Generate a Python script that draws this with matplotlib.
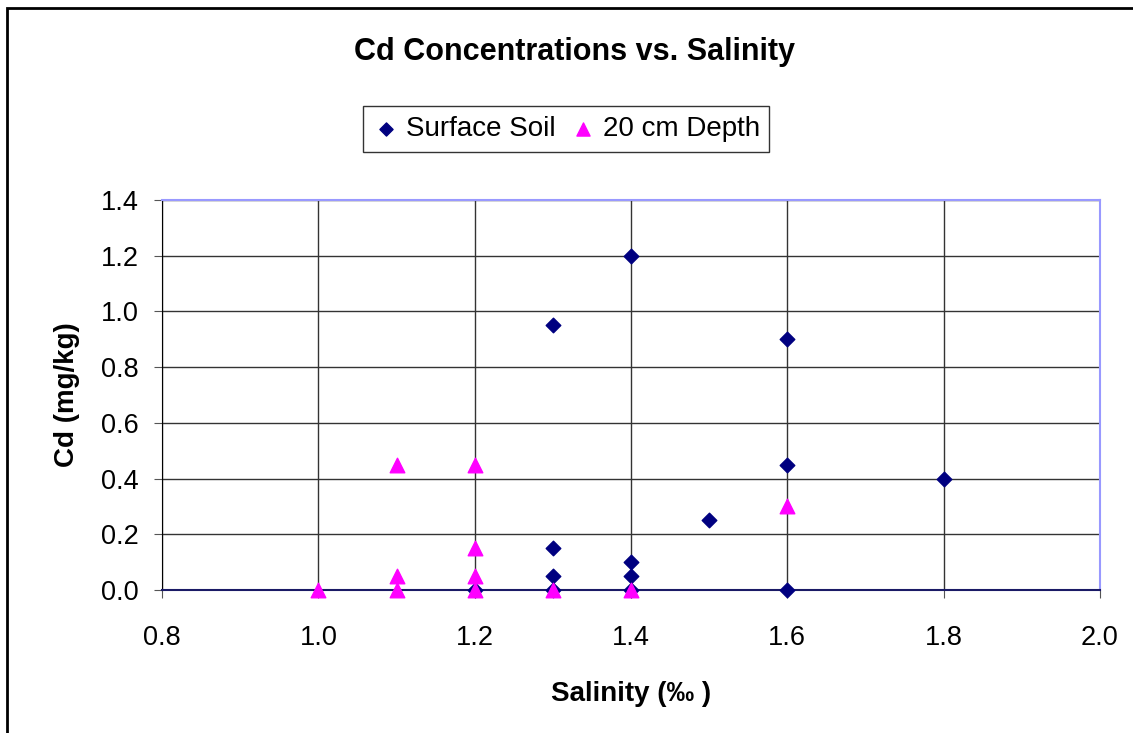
import numpy as np
import matplotlib.pyplot as plt
from matplotlib.patches import Rectangle

plt.rcParams['font.family'] = ['Liberation Sans', 'DejaVu Sans']

# Surface Soil
sal_surf = [1.3, 1.4, 1.6, 1.6, 1.8, 1.5, 1.3, 1.3, 1.3, 1.4, 1.4, 1.4, 1.2, 1.6]
cd_surf = [0.95, 1.2, 0.9, 0.45, 0.4, 0.25, 0.15, 0.05, 0.0, 0.1, 0.05, 0.0, 0.0, 0.0]
# 20 cm Depth
sal_deep = [1.0, 1.1, 1.1, 1.1, 1.2, 1.2, 1.2, 1.2, 1.3, 1.4, 1.6]
cd_deep = [0.0, 0.45, 0.05, 0.0, 0.45, 0.15, 0.05, 0.0, 0.0, 0.0, 0.3]

xticks = [0.8, 1.0, 1.2, 1.4, 1.6, 1.8, 2.0]
yticks = [0.0, 0.2, 0.4, 0.6, 0.8, 1.0, 1.2, 1.4]

fig = plt.figure(figsize=(11.33, 7.33), dpi=100)
# outer chart border
fig.patches.append(Rectangle((7/1133, -0.1), 1.2, (733-8)/733 + 0.1,
                             transform=fig.transFigure, fill=False,
                             edgecolor='black', linewidth=2))

ax = fig.add_axes([162/1133, (733-590)/733, (1100-162)/1133, (590-200)/733])
ax.scatter(sal_surf, cd_surf, marker='D', s=55, color='#000080', label='Surface Soil', zorder=3, clip_on=False)
ax.scatter(sal_deep, cd_deep, marker='^', s=110, color='#ff00ff', label='20 cm Depth', zorder=4, clip_on=False)

ax.set_xlim(0.8, 2.0)
ax.set_ylim(0, 1.4)
ax.set_xticks(xticks)
ax.set_yticks(yticks)
ax.set_xticklabels(['%.1f' % v for v in xticks], fontsize=19.5)
ax.set_yticklabels(['%.1f' % v for v in yticks], fontsize=19.5)
ax.grid(True, color='#333333', linewidth=1)
ax.set_axisbelow(True)
ax.tick_params(direction='out', length=6, color='#555555')
ax.tick_params(axis='y', pad=11)
ax.tick_params(axis='x', pad=19)
ax.spines['top'].set_color('#9999ff')
ax.spines['right'].set_color('#9999ff')
ax.spines['top'].set_linewidth(1.5)
ax.spines['right'].set_linewidth(1.5)
ax.spines['bottom'].set_color('#1a1a66')
ax.spines['bottom'].set_linewidth(1.5)
ax.spines['left'].set_color('black')

ax.set_xlabel('Salinity (‰ )', fontsize=20, fontweight='bold', labelpad=22)
ax.set_ylabel('Cd (mg/kg)', fontsize=20, fontweight='bold', labelpad=15)

fig.text(575/1133, 1 - 52/733, 'Cd Concentrations vs. Salinity', ha='center', va='center',
         fontsize=22, fontweight='bold')

leg = fig.legend(loc='center', bbox_to_anchor=(566/1133, 1 - 129/733), ncol=2,
                 fontsize=20, frameon=True, fancybox=False, edgecolor='black',
                 handletextpad=0.2, columnspacing=0.5, borderpad=0.35, handlelength=1.0,
                 markerscale=0.9)
leg.get_frame().set_linewidth(1)

plt.savefig('out.png', dpi=100)
